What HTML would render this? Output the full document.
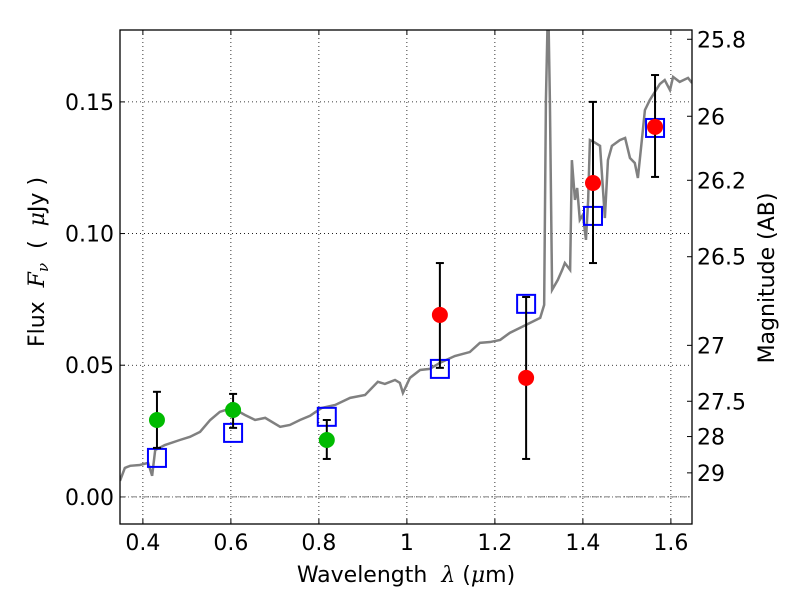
<!DOCTYPE html>
<html><head><meta charset="utf-8"><style>
body{margin:0;background:#fff;}
svg{font-family:"DejaVu Sans","Liberation Sans",sans-serif;}
</style></head><body>
<svg id="c" width="800" height="600" xmlns="http://www.w3.org/2000/svg"></svg>
<script>
const specWave=[0.348,0.359,0.371,0.393,0.412,0.421,0.428,0.450,0.484,0.507,0.530,0.553,0.575,0.603,0.632,0.655,0.678,0.712,0.734,0.757,0.780,0.793,0.807,0.837,0.871,0.905,0.934,0.950,0.973,0.984,0.991,1.007,1.030,1.052,1.075,1.109,1.143,1.166,1.189,1.212,1.234,1.257,1.280,1.303,1.312,1.316,1.321,1.325,1.330,1.343,1.353,1.359,1.371,1.375,1.382,1.387,1.393,1.400,1.407,1.412,1.416,1.425,1.439,1.450,1.457,1.466,1.484,1.496,1.507,1.518,1.525,1.534,1.541,1.552,1.575,1.586,1.598,1.605,1.620,1.639,1.648];
const specFlux=[0.0061,0.0110,0.0118,0.0121,0.0129,0.0080,0.0178,0.0197,0.0216,0.0228,0.0247,0.0292,0.0323,0.0338,0.0311,0.0292,0.0300,0.0266,0.0273,0.0292,0.0308,0.0323,0.0338,0.0349,0.0376,0.0387,0.0437,0.0429,0.0444,0.0433,0.0395,0.0452,0.0482,0.0486,0.0509,0.0535,0.0550,0.0585,0.0588,0.0596,0.0623,0.0642,0.0661,0.0680,0.0729,0.1507,0.19,0.1507,0.0786,0.0824,0.0862,0.0888,0.0862,0.1279,0.1128,0.1173,0.1052,0.1071,0.0976,0.1128,0.1355,0.1348,0.1333,0.1059,0.1279,0.1333,0.1355,0.1363,0.1287,0.1268,0.1211,0.1355,0.1469,0.1507,0.1568,0.1583,0.1545,0.1595,0.1576,0.1591,0.1572];
const obsWave=[0.432,0.605,0.818,1.075,1.271,1.423,1.564];
const obsFlux=[0.0292,0.0330,0.0216,0.0691,0.0452,0.1192,0.1405];
const obsLow=[0.0186,0.0262,0.0144,0.0490,0.0144,0.0888,0.1215];
const obsHigh=[0.0399,0.0391,0.0292,0.0888,0.0759,0.1500,0.1602];
const obsColor=['green','green','green','red','red','red','red'];
const modelFlux=[0.0148,0.0243,0.0304,0.0486,0.0733,0.1067,0.1401];
const xTicks=[0.4,0.6,0.8,1.0,1.2,1.4,1.6];
const xTickLabels=['0.4','0.6','0.8','1','1.2','1.4','1.6'];
const yTicks=[0,0.05,0.10,0.15];
const yTickLabels=['0.00','0.05','0.10','0.15'];
const magTicks=[25.8,26,26.2,26.5,27,27.5,28,29];

const L=120,R=692,T=30,B=524,X0=0.348,X1=1.648,Y0=-0.0103,Y1=0.1773;
const sx=v=>L+(v-X0)/(X1-X0)*(R-L);
const sy=v=>B-(v-Y0)/(Y1-Y0)*(B-T);
const svg=document.getElementById('c');const NS='http://www.w3.org/2000/svg';
function mk(t,a,p){const e=document.createElementNS(NS,t);for(const k in a)e.setAttribute(k,a[k]);(p||svg).appendChild(e);return e;}
const clip=mk('clipPath',{id:'pc'});mk('rect',{x:L,y:T,width:R-L,height:B-T},clip);
xTicks.forEach((v,i)=>{const x=sx(v);
 const g=mk('line',{x1:x,x2:x,y1:T,y2:B,stroke:'#000','stroke-width':0.8,'stroke-dasharray':'1,3'});
 
 mk('line',{x1:x,x2:x,y1:B,y2:B-5,stroke:'#000'});mk('line',{x1:x,x2:x,y1:T,y2:T+5,stroke:'#000'});
 const t=mk('text',{x:x,y:B+26,'font-size':22,'text-anchor':'middle'});t.textContent=xTickLabels[i];
 });
yTicks.forEach((v,i)=>{const y=sy(v);
 const g=mk('line',{x1:L,x2:R,y1:y,y2:y,stroke:'#000','stroke-width':0.8,'stroke-dasharray':'1,3'});
 
 mk('line',{x1:L,x2:L+5,y1:y,y2:y,stroke:'#000'});
 const t=mk('text',{x:L-6,y:y+8,'font-size':22,'text-anchor':'end'});t.textContent=yTickLabels[i];
 });
const z=mk('line',{x1:L,x2:R,y1:sy(0),y2:sy(0),stroke:'#555','stroke-width':0.8,'stroke-dasharray':'6,2,1,2'});

magTicks.forEach(m=>{const f=Math.pow(10,(23.9-m)/2.5);const y=sy(f);
 mk('line',{x1:R,x2:R-5,y1:y,y2:y,stroke:'#000'});
 const t=mk('text',{x:R+5,y:y+8,'font-size':22});t.textContent=String(m);
 });
const sp=mk('polyline',{points:specWave.map((w,i)=>sx(w)+','+sy(specFlux[i])).join(' '),fill:'none',stroke:'#808080','stroke-width':2.5,'clip-path':'url(#pc)'});

obsWave.forEach((w,i)=>{const r=mk('rect',{x:sx(w)-9,y:sy(modelFlux[i])-9,width:18,height:18,fill:'none',stroke:'#0000ff','stroke-width':2});
 });
obsWave.forEach((w,i)=>{const x=sx(w);
 const e=mk('line',{x1:x,x2:x,y1:sy(obsLow[i]),y2:sy(obsHigh[i]),stroke:'#000','stroke-width':2});
 
 mk('line',{x1:x-4,x2:x+4,y1:sy(obsLow[i]),y2:sy(obsLow[i]),stroke:'#000','stroke-width':2});
 mk('line',{x1:x-4,x2:x+4,y1:sy(obsHigh[i]),y2:sy(obsHigh[i]),stroke:'#000','stroke-width':2});
 const c=mk('circle',{cx:x,cy:sy(obsFlux[i]),r:8,fill:obsColor[i]=='green'?'#00bb00':'#ff0000'});
 });
const fr=mk('rect',{x:L,y:T,width:R-L,height:B-T,fill:'none',stroke:'#000','stroke-width':1.3});

</script>
<svg width="800" height="600" style="position:absolute;left:0;top:0;font-family:'DejaVu Sans','Liberation Sans',sans-serif">
<text x="406" y="582" font-size="22" text-anchor="middle">Wavelength&#160;&#160;<tspan font-family="DejaVu Serif" font-style="italic">λ</tspan> (<tspan font-family="DejaVu Serif" font-style="italic">μ</tspan>m)</text>
<text transform="translate(44,262) rotate(-90)" font-size="22" text-anchor="middle">Flux&#160;&#160;<tspan font-family="DejaVu Serif" font-style="italic">F<tspan font-size="15" dy="4">ν</tspan></tspan><tspan dy="-4">&#160;&#160;(&#160;&#160;</tspan><tspan font-family="DejaVu Serif" font-style="italic">μ</tspan>Jy )</text>
<text transform="translate(774,278) rotate(-90)" font-size="22" text-anchor="middle">Magnitude (AB)</text>
</svg>
</body></html>
